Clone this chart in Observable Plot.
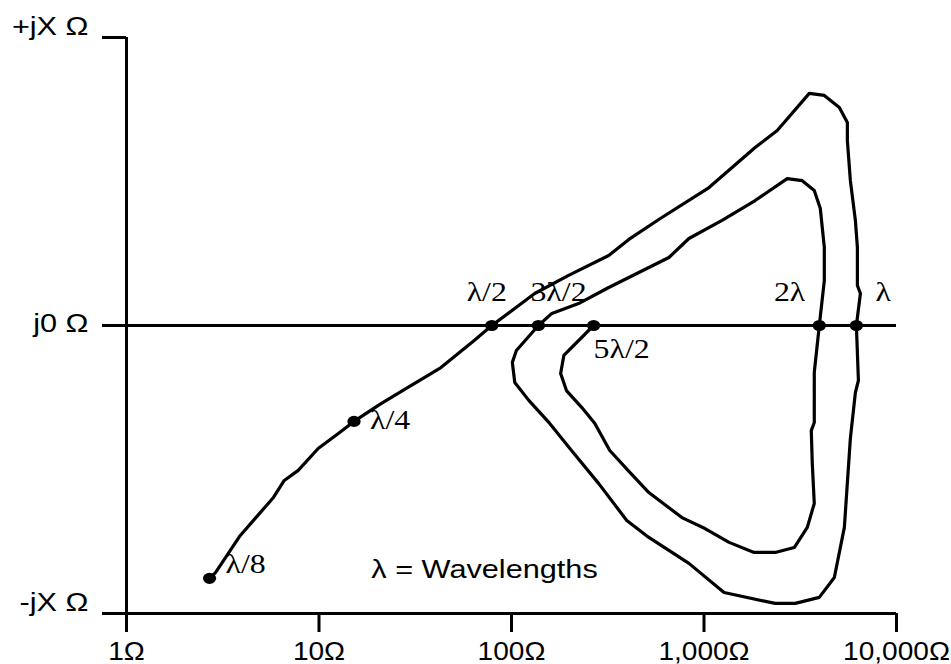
<!DOCTYPE html>
<html>
<head>
<meta charset="utf-8">
<script src="https://cdn.jsdelivr.net/npm/d3@7"></script>
<script src="https://cdn.jsdelivr.net/npm/@observablehq/plot@0.6"></script>
<style>
  html, body { margin: 0; padding: 0; background: #fff; }
</style>
</head>
<body>
<div id="chart"></div>
<script>
// ---- Data ----
// Impedance path (resistance in ohms, log scale; reactance normalised -1..+1)
const pathR = [2.7, 2.9, 3.9, 4.8, 5.8, 6.6, 7.8, 9.9, 12.6, 15.2,
  21, 29, 43, 64, 79, 132, 198, 320, 407, 604,
  1062, 1843, 2401, 3523, 4217, 5048, 5556, 5556, 5759, 6115,
  6264, 6264, 6494, 6189, 6340, 6115, 5759, 5360, 4754, 3972,
  2979, 2343, 1271, 835, 517, 397, 284, 205, 158, 123,
  104, 101, 106, 138, 162, 223, 320, 657, 835, 1241,
  1843, 2706, 3238, 3740, 4020, 4217, 4217, 3972, 3740, 3740,
  3608, 3652, 3740, 3440, 2943, 2343, 1821, 1350, 1012, 768,
  517, 412, 324, 271, 232, 193, 180, 187, 267];
const pathX = [-0.878, -0.858, -0.729, -0.660, -0.597, -0.538, -0.503, -0.427, -0.375, -0.333,
  -0.271, -0.215, -0.146, -0.052, 0, 0.111, 0.174, 0.243, 0.299, 0.375,
  0.479, 0.618, 0.677, 0.806, 0.799, 0.757, 0.705, 0.642, 0.503, 0.365,
  0.271, 0.139, 0.111, 0, -0.191, -0.233, -0.392, -0.701, -0.875, -0.944,
  -0.965, -0.965, -0.927, -0.826, -0.736, -0.677, -0.549, -0.434, -0.340, -0.260,
  -0.198, -0.128, -0.087, 0, 0.042, 0.076, 0.132, 0.236, 0.302, 0.365,
  0.434, 0.510, 0.503, 0.469, 0.406, 0.271, 0.156, 0, -0.163, -0.337,
  -0.365, -0.479, -0.618, -0.701, -0.771, -0.788, -0.788, -0.753, -0.705, -0.667,
  -0.580, -0.510, -0.434, -0.340, -0.285, -0.226, -0.167, -0.104, 0];

// Marked wavelength points
const markerLabels = ["λ/8", "λ/4", "λ/2", "λ", "3λ/2", "2λ", "5λ/2"];
const markerR = [2.7, 15.2, 79, 6189, 138, 3972, 267];
const markerX = [-0.878, -0.333, 0, 0, 0, 0, 0];

// Axes
const xTickValues = [1, 10, 100, 1000, 10000];
const xTickLabels = ["1Ω", "10Ω", "100Ω", "1,000Ω", "10,000Ω"];
const yTickValues = [1, 0, -1];
const yTickLabels = ["+jX Ω", "j0 Ω", "-jX Ω"];

// Note text
const noteText = "λ = Wavelengths";
const noteR = 18.7;
const noteX = -0.875;

// ---- Layout / style (not data) ----
const labelLayout = {
  "λ/8":  {dx: 16,  dy: -5,  anchor: "start"},
  "λ/4":  {dx: 16,  dy: 8,   anchor: "start"},
  "λ/2":  {dx: -5,  dy: -25, anchor: "middle"},
  "λ":    {dx: 19,  dy: -25, anchor: "start"},
  "3λ/2": {dx: -8,  dy: -25, anchor: "start"},
  "2λ":   {dx: -14, dy: -25, anchor: "end"},
  "5λ/2": {dx: 0,   dy: 32,  anchor: "start"}
};
const SERIF = "'Liberation Serif', 'Times New Roman', serif";
const SANS = "'Liberation Sans', Arial, sans-serif";

const path = pathR.map((r, i) => ({r, x: pathX[i]}));
const markers = markerLabels.map((label, i) => ({label, r: markerR[i], x: markerX[i]}));

const labelMarks = markers.map(m => {
  const L = labelLayout[m.label];
  return Plot.text([m], {
    x: "r", y: "x", text: "label",
    dx: L.dx, dy: L.dy, textAnchor: L.anchor, lineAnchor: "bottom",
    fontFamily: SERIF, fontSize: 27, fill: "black"
  });
});

const chart = Plot.plot({
  width: 951,
  height: 664,
  marginLeft: 126,
  marginRight: 55,
  marginTop: 37,
  marginBottom: 51,
  x: {type: "log", domain: [1, 10000]},
  y: {domain: [-1, 1]},
  style: {fontFamily: SANS, fontSize: "26px", background: "white", overflow: "visible", color: "black"},
  marks: [
    // frame lines
    Plot.ruleX([1], {stroke: "black", strokeWidth: 3}),
    Plot.ruleY([0, -1], {stroke: "black", strokeWidth: 3}),
    Plot.axisX({
      ticks: xTickValues,
      tickFormat: d => xTickLabels[xTickValues.indexOf(d)],
      tickSize: 19, tickPadding: 9, strokeWidth: 3,
      fontSize: 26, fontFamily: SANS, label: null
    }),
    Plot.axisY({
      ticks: yTickValues,
      tickFormat: () => "",
      tickSize: 24, strokeWidth: 3, label: null
    }),
    // y labels
    Plot.text([0, 2], {
      y: i => yTickValues[i], text: i => yTickLabels[i],
      frameAnchor: "left", textAnchor: "end", lineAnchor: "bottom",
      dx: -38, dy: -3, fontFamily: SANS, fontSize: 26, fill: "black"
    }),
    Plot.text([1], {
      y: i => yTickValues[i], text: i => yTickLabels[i],
      frameAnchor: "left", textAnchor: "end", lineAnchor: "bottom",
      dx: -38, dy: 6, fontFamily: SANS, fontSize: 26, fill: "black"
    }),
    // impedance path
    Plot.line(path, {x: "r", y: "x", stroke: "black", strokeWidth: 3.2, curve: "linear", strokeLinejoin: "round"}),
    Plot.dot(markers, {x: "r", y: "x", r: 5.6, fill: "black", stroke: "none"}),
    ...labelMarks,
    Plot.text([noteText], {
      x: () => noteR, y: () => noteX, text: d => d,
      textAnchor: "start", lineAnchor: "bottom",
      fontFamily: SANS, fontSize: 26, fill: "black"
    })
  ]
});

// The reference is horizontally stretched: widen glyphs and dots around their anchors
const SX = 1.18;
const SX_TICK = 1.08;
const tickTexts = new Set(chart.querySelectorAll('g[aria-label="x-axis tick label"] text'));
chart.querySelectorAll("text").forEach(t => {
  const s = tickTexts.has(t) ? SX_TICK : SX;
  const tr = t.getAttribute("transform");
  if (tr) t.setAttribute("transform", tr + ` scale(${s},1)`);
  else {
    const x = +t.getAttribute("x") || 0, y = +t.getAttribute("y") || 0;
    t.setAttribute("transform", `translate(${x},${y}) scale(${s},1) translate(${-x},${-y})`);
  }
});
chart.querySelectorAll("circle").forEach(c => {
  const cx = +c.getAttribute("cx") || 0, cy = +c.getAttribute("cy") || 0;
  const tr = c.getAttribute("transform");
  if (!tr) c.setAttribute("transform", `translate(${cx},${cy}) scale(${SX},1) translate(${-cx},${-cy})`);
});

document.getElementById("chart").appendChild(chart);
</script>
</body>
</html>
